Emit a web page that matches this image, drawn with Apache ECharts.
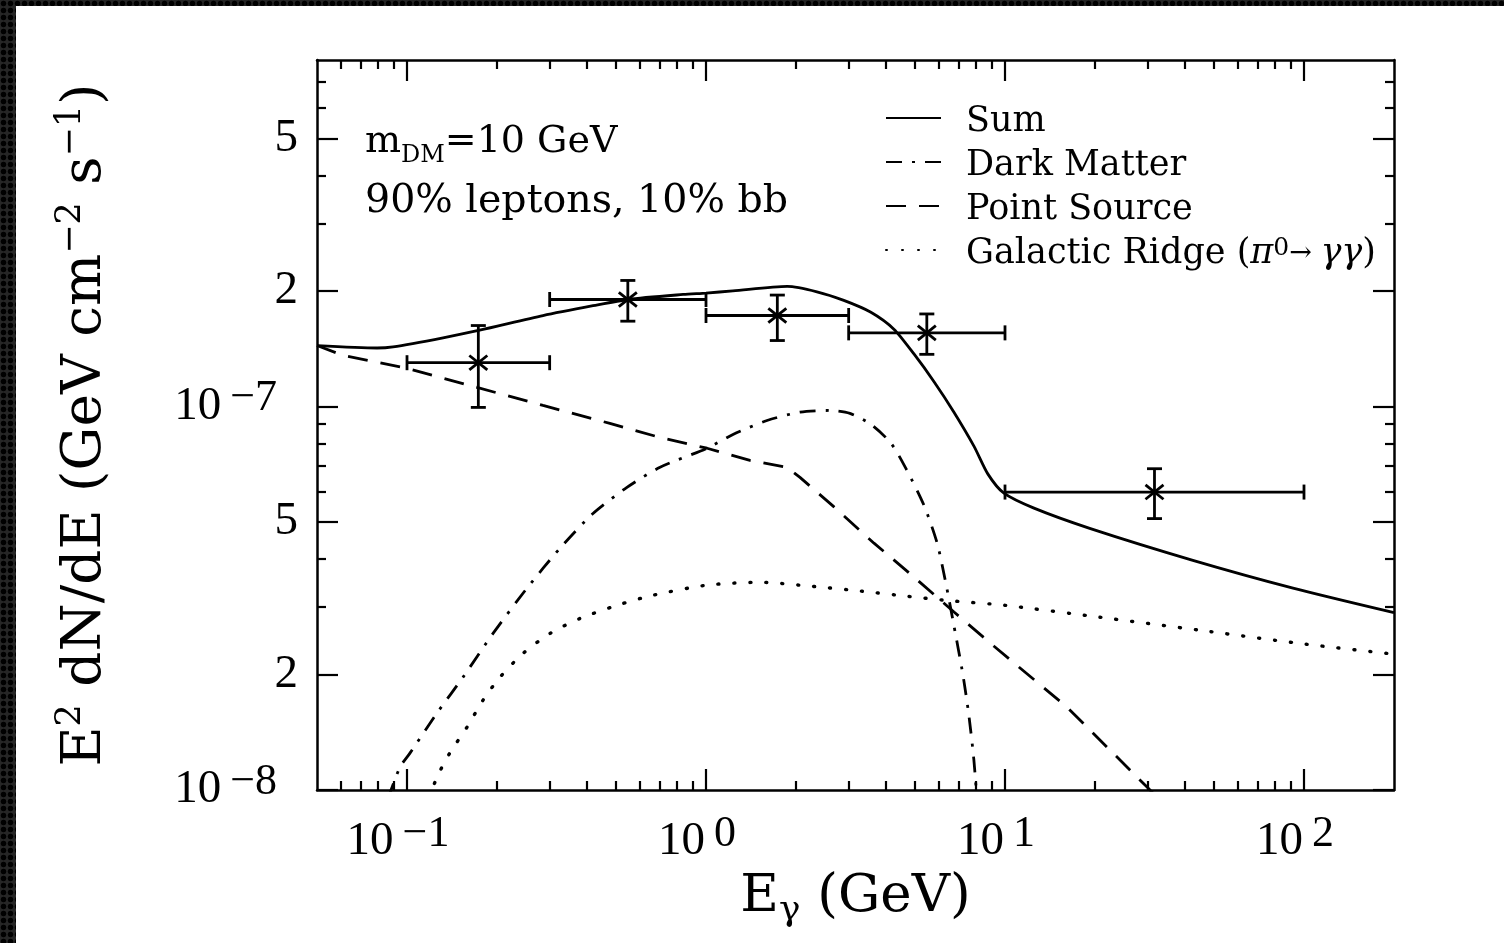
<!DOCTYPE html>
<html><head><meta charset="utf-8">
<script src="https://cdn.jsdelivr.net/npm/echarts/dist/echarts.min.js"></script>
<style>
html,body{margin:0;padding:0;width:1504px;height:943px;overflow:hidden;}
body{background-color:#262626;background-image:radial-gradient(circle at center,#000 0,#000 2.4px,rgba(0,0,0,0) 3.2px);background-size:7px 7px;}
#chart{position:absolute;left:16px;top:6px;width:1488px;height:937px;background:#fff;}
</style></head><body><div id="chart"></div>
<script>
// ---------- data ----------
const sumE = [0.05, 0.0794, 0.0898, 0.132, 0.175, 0.285, 0.419, 0.548, 0.838, 1.0, 1.23, 1.87, 2.35, 2.89, 3.56, 4.25, 4.96, 5.79, 6.75, 7.88, 8.77, 9.92, 12.5, 19.2, 42.5, 91.9, 200];
const sumF = [1.44e-7, 1.42e-7, 1.43e-7, 1.51e-7, 1.58e-7, 1.725e-7, 1.83e-7, 1.90e-7, 1.958e-7, 1.975e-7, 2.00e-7, 2.055e-7, 1.99e-7, 1.89e-7, 1.76e-7, 1.59e-7, 1.37e-7, 1.16e-7, 9.66e-8, 7.87e-8, 6.66e-8, 5.94e-8, 5.43e-8, 4.81e-8, 3.97e-8, 3.36e-8, 2.90e-8];

const dmE = [0.0864, 0.0948, 0.1023, 0.126, 0.154, 0.194, 0.252, 0.325, 0.419, 0.544, 0.702, 1.008, 1.231, 1.60, 2.063, 2.598, 3.03, 3.56, 4.16, 4.70, 5.36, 5.93, 6.35, 6.75, 7.23, 7.57, 7.87, 8.06];
const dmF = [9.5e-9, 1.148e-8, 1.248e-8, 1.587e-8, 1.969e-8, 2.56e-8, 3.36e-8, 4.27e-8, 5.26e-8, 6.15e-8, 6.94e-8, 7.78e-8, 8.45e-8, 9.19e-8, 9.66e-8, 9.76e-8, 9.59e-8, 8.98e-8, 8.01e-8, 6.81e-8, 5.52e-8, 4.40e-8, 3.44e-8, 2.68e-8, 2.00e-8, 1.567e-8, 1.197e-8, 9.4e-9];

const psE = [0.05, 0.0611, 0.097, 0.1714, 0.285, 0.477, 0.702, 1.008, 1.403, 1.866, 2.062, 2.68, 3.646, 4.963, 6.752, 9.19, 16.12, 29.86, 33.0];
const psF = [1.442e-7, 1.358e-7, 1.264e-7, 1.121e-7, 1.006e-7, 9.03e-8, 8.30e-8, 7.78e-8, 7.23e-8, 6.94e-8, 6.53e-8, 5.47e-8, 4.40e-8, 3.59e-8, 2.91e-8, 2.37e-8, 1.644e-8, 1.018e-8, 9.4e-9];

const grE = [0.1185, 0.126, 0.139, 0.1588, 0.1796, 0.2047, 0.2443, 0.301, 0.379, 0.504, 0.665, 1.008, 1.515, 2.226, 3.30, 4.70, 6.40, 10.0, 20.8, 44.7, 96.9, 200];
const grF = [9.5e-9, 1.081e-8, 1.248e-8, 1.459e-8, 1.715e-8, 1.969e-8, 2.27e-8, 2.56e-8, 2.80e-8, 3.03e-8, 3.22e-8, 3.42e-8, 3.48e-8, 3.40e-8, 3.30e-8, 3.20e-8, 3.12e-8, 3.03e-8, 2.82e-8, 2.61e-8, 2.41e-8, 2.26e-8];

const ptE   = [0.1732, 0.5477, 1.732, 5.477, 31.62];
const ptELo = [0.1, 0.3, 1, 3, 10];
const ptEHi = [0.3, 1, 3, 10, 100];
const ptF   = [1.30e-7, 1.90e-7, 1.726e-7, 1.555e-7, 5.98e-8];
const ptFLo = [9.94e-8, 1.668e-7, 1.485e-7, 1.367e-7, 5.10e-8];
const ptFHi = [1.625e-7, 2.13e-7, 1.951e-7, 1.742e-7, 6.88e-8];

const seriesNames = ['Sum', 'Dark Matter', 'Point Source', 'Galactic Ridge (π0→ γγ)'];

const xMin = 0.05, xMax = 200, yMin = 1e-8, yMax = 8e-7;
const xMajor = [0.1, 1, 10, 100];
const xTickLabels = ['10^−1', '10^0', '10^1', '10^2'];
const xMinor = [0.06,0.07,0.08,0.09,0.2,0.3,0.4,0.5,0.6,0.7,0.8,0.9,2,3,4,5,6,7,8,9,20,30,40,50,60,70,80,90];
const yMajor = [1e-8, 2e-8, 5e-8, 1e-7, 2e-7, 5e-7];
const yTickLabels = ['10^−8', '2', '5', '10^−7', '2', '5'];
const yMinor = [3e-8,4e-8,6e-8,7e-8,8e-8,9e-8,3e-7,4e-7,6e-7,7e-7];

// ---------- helpers ----------
const L = Math.log10;
const SERIF = 'Liberation Serif';
const DV = 'DejaVu Serif';
function pairs(a, b) { return a.map((v, i) => [v, b[i]]); }
function richTick(s) {
  const p = s.split('^');
  return p.length > 1 ? '{b|' + p[0] + '}{s|' + p[1] + '}' : '{b|' + p[0] + '}';
}
function tickFormatter(vals, labels) {
  return function (v) {
    const i = vals.findIndex(x => Math.abs(L(x) - v) < 1e-6);
    return i < 0 ? '' : richTick(labels[i]);
  };
}
const MAJ = 21, MIN = 9;
function ov(isX, pos, vals, len, opts) {
  opts = opts || {};
  return {
    type: 'value', position: pos, gridIndex: 0,
    min: isX ? L(xMin) : L(yMin), max: isX ? L(xMax) : L(yMax),
    axisLine: { show: !!opts.line, onZero: false, lineStyle: { color: '#000', width: 2.5 } },
    splitLine: { show: false },
    axisTick: { show: true, inside: true, length: len, lineStyle: { color: '#000', width: 2.2 }, customValues: vals.map(L) },
    axisLabel: opts.labels ? {
      show: true, customValues: vals.map(L), margin: isX ? 22 : 19,
      formatter: tickFormatter(vals, opts.labels), color: '#000',
      rich: {
        b: { fontFamily: SERIF, fontSize: 47, lineHeight: 60, color: '#000' },
        s: { fontFamily: SERIF, fontSize: 44, lineHeight: 18, verticalAlign: 'top', color: '#000', padding: [0, isX ? 18 : 21, 0, 9] }
      }
    } : { show: false },
    silent: true
  };
}

const chart = echarts.init(document.getElementById('chart'), null, { renderer: 'canvas' });

const option = {
  animation: false,
  backgroundColor: '#fff',
  grid: { left: 301, top: 54, right: 110, bottom: 153, containLabel: false },
  xAxis: [
    {
      type: 'log', logBase: 10, min: xMin, max: xMax, position: 'bottom',
      axisLine: { show: true, onZero: false, lineStyle: { color: '#000', width: 2.5 } },
      axisTick: { show: false }, axisLabel: { show: false }, splitLine: { show: false }, minorTick: { show: false },
      name: '{t|E}{sub|γ}{t| (GeV)}', nameLocation: 'middle', nameGap: 75,
      nameTextStyle: {
        color: '#000',
        rich: {
          t: { fontFamily: DV, fontSize: 53, lineHeight: 64, color: '#000' },
          sub: { fontFamily: DV, fontSize: 36, lineHeight: 40, verticalAlign: 'bottom', color: '#000' }
        }
      }
    },
    ov(true, 'bottom', xMajor, MAJ, { labels: xTickLabels }),
    ov(true, 'bottom', xMinor, MIN),
    ov(true, 'top', xMajor, MAJ, { line: true }),
    ov(true, 'top', xMinor, MIN)
  ],
  yAxis: [
    {
      type: 'log', logBase: 10, min: yMin, max: yMax, position: 'left',
      axisLine: { show: true, onZero: false, lineStyle: { color: '#000', width: 2.5 } },
      axisTick: { show: false }, axisLabel: { show: false }, splitLine: { show: false }, minorTick: { show: false },
      name: '{t|E}{sup|2}{t| dN/dE (GeV cm}{sup|−2}{t| s}{sup|−1}{t|)}', nameLocation: 'middle', nameGap: 198,
      nameTextStyle: {
        color: '#000',
        rich: {
          t: { fontFamily: DV, fontSize: 55, lineHeight: 66, color: '#000' },
          sup: { fontFamily: DV, fontSize: 35, lineHeight: 20, verticalAlign: 'top', color: '#000' }
        }
      }
    },
    ov(false, 'left', yMajor, MAJ, { labels: yTickLabels }),
    ov(false, 'left', yMinor, MIN),
    ov(false, 'right', yMajor, MAJ, { line: true }),
    ov(false, 'right', yMinor, MIN)
  ],
  legend: {
    orient: 'vertical', left: 869, top: 90, padding: 0, itemGap: 0,
    itemWidth: 55, itemHeight: 10, selectedMode: false,
    data: seriesNames,
    itemStyle: { color: 'rgba(0,0,0,0)', borderWidth: 0 },
    textStyle: { fontFamily: DV, fontSize: 35, color: '#000', lineHeight: 36, padding: [8, 0, 0, 20],
      rich: {
        t: { fontFamily: DV, fontSize: 35, lineHeight: 36, color: '#000' },
        g: { fontFamily: DV, fontSize: 35, lineHeight: 36, fontStyle: 'italic', color: '#000' },
        sup: { fontFamily: DV, fontSize: 25, lineHeight: 16, verticalAlign: 'top', color: '#000' },
        ar: { fontFamily: DV, fontSize: 27, lineHeight: 36, color: '#000' }
      }
    },
    formatter: function (name) {
      if (name === seriesNames[3]) return '{t|Galactic Ridge (}{g|π}{sup|0}{ar|→ }{g|γγ}{t|)}';
      return '{t|' + name + '}';
    }
  },
  graphic: [{
    type: 'text', left: 349, top: 117, silent: true,
    style: {
      text: '{n|m}{s|DM}{n|=10 GeV}\n{n2|90% leptons, 10% bb}',
      fill: '#000',
      rich: {
        n: { fontFamily: DV, fontSize: 38, lineHeight: 52, fill: '#000' },
        s: { fontFamily: DV, fontSize: 24, lineHeight: 22, verticalAlign: 'bottom', fill: '#000' },
        n2: { fontFamily: DV, fontSize: 39.5, lineHeight: 68, fill: '#000' }
      }
    }
  }],
  series: [
    { name: seriesNames[0], type: 'line', xAxisIndex: 0, yAxisIndex: 0, data: pairs(sumE, sumF), symbol: 'none', smooth: 0.25, clip: true,
      color: '#000', lineStyle: { color: '#000', width: 2.8 } },
    { name: seriesNames[1], type: 'line', xAxisIndex: 0, yAxisIndex: 0, data: pairs(dmE, dmF), symbol: 'none', smooth: 0.25, clip: true,
      color: '#000', lineStyle: { color: '#000', width: 2.8, type: [16, 10, 3, 10] } },
    { name: seriesNames[2], type: 'line', xAxisIndex: 0, yAxisIndex: 0, data: pairs(psE, psF), symbol: 'none', smooth: false, clip: true,
      color: '#000', lineStyle: { color: '#000', width: 2.8, type: [20, 13] } },
    { name: seriesNames[3], type: 'line', xAxisIndex: 0, yAxisIndex: 0, data: pairs(grE, grF), symbol: 'none', smooth: 0.25, clip: true,
      color: '#000', lineStyle: { color: '#000', width: 3.4, type: [1, 15], cap: 'round' } },
    {
      name: 'Data', type: 'custom', xAxisIndex: 0, yAxisIndex: 0, clip: true,
      data: ptE.map((e, i) => [e, ptF[i], ptELo[i], ptEHi[i], ptFLo[i], ptFHi[i]]),
      encode: { x: 0, y: 1 },
      renderItem: function (params, api) {
        const c = api.coord([api.value(0), api.value(1)]);
        const l = api.coord([api.value(2), api.value(1)]);
        const r = api.coord([api.value(3), api.value(1)]);
        const lo = api.coord([api.value(0), api.value(4)]);
        const hi = api.coord([api.value(0), api.value(5)]);
        const cap = 7.5, s = 9;
        const st = { stroke: '#000', lineWidth: 2.8, fill: null };
        const seg = (x1, y1, x2, y2) => ({ type: 'line', shape: { x1, y1, x2, y2 }, style: st });
        return { type: 'group', children: [
          seg(l[0], c[1], r[0], c[1]),
          seg(l[0], c[1] - cap, l[0], c[1] + cap),
          seg(r[0], c[1] - cap, r[0], c[1] + cap),
          seg(c[0], hi[1], c[0], lo[1]),
          seg(c[0] - cap, hi[1], c[0] + cap, hi[1]),
          seg(c[0] - cap, lo[1], c[0] + cap, lo[1]),
          seg(c[0] - s, c[1] - s * 0.8, c[0] + s, c[1] + s * 0.8),
          seg(c[0] - s, c[1] + s * 0.8, c[0] + s, c[1] - s * 0.8)
        ] };
      }
    }
  ]
};
chart.setOption(option);
</script></body></html>
